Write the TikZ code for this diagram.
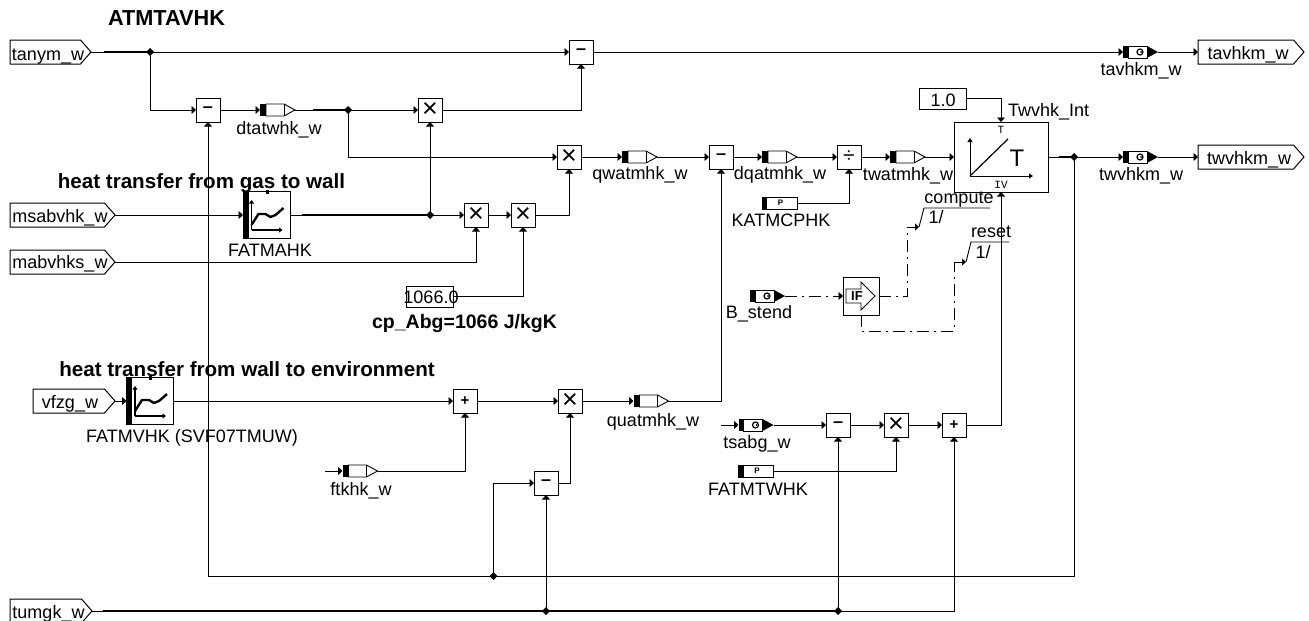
\documentclass[tikz,border=0pt]{standalone}
\usepackage{fontspec}
\setmainfont{Liberation Sans}
\setmonofont{Liberation Mono}
\usetikzlibrary{arrows.meta,shapes.geometric}
\tikzset{
  conn/.style={line width=0.9pt,-{Triangle[length=4.5pt,width=8pt]}},
  wire/.style={line width=0.9pt},
  bus/.style={line width=2pt},
  ctrl/.style={line width=0.9pt,dash pattern=on 12pt off 5pt on 2pt off 5pt},
  ctrlarrow/.style={line width=0.9pt,-{Triangle[length=4pt,width=7pt]}},
  lab/.style={font=\fontsize{18}{20}\selectfont,inner sep=0pt,outer sep=0pt,anchor=base},
  head/.style={font=\fontsize{20.6}{22}\selectfont\bfseries,inner sep=0pt,outer sep=0pt,anchor=base},
  opbox/.style={draw,line width=1pt,minimum width=24pt,minimum height=24pt,inner sep=0pt,outer sep=0pt,fill=white,font=\fontsize{18}{18}\selectfont},
  opx/.style={opbox,font=\fontsize{27}{27}\selectfont},
  opp/.style={opbox,font=\fontsize{15}{15}\selectfont\bfseries},
  opd/.style={opbox,font=\fontsize{21}{21}\selectfont},
  elbox/.style={minimum width=35pt,minimum height=12pt,inner sep=0pt,outer sep=0pt},
  pbox/.style={minimum width=1pt,minimum height=24pt,inner sep=0pt,outer sep=0pt},
  junction/.style={shape=diamond,fill=black,minimum width=8pt,minimum height=8pt,inner sep=0pt,outer sep=0pt},
}
% input-type element: strip, white body, white tip
\newcommand\elemin[3]{%
  \node[elbox] (#1) at (#2,#3) {};
  \draw[line width=0.9pt] ([xshift=6pt]#1.north west) -- ([xshift=-11pt]#1.north east) -- (#1.east) -- ([xshift=-11pt]#1.south east) -- ([xshift=6pt]#1.south west) -- cycle;
  \draw[line width=0.9pt] ([xshift=-11pt]#1.north east) -- ([xshift=-11pt]#1.south east);
  \fill (#1.north west) rectangle ([xshift=6pt]#1.south west);}
% output-type element: strip, body with circle, black tip
\newcommand\elemout[3]{%
  \node[elbox] (#1) at (#2,#3) {};
  \fill (#1.north west) rectangle ([xshift=5pt]#1.south west);
  \draw[line width=0.9pt] ([xshift=5pt]#1.north west) rectangle ([xshift=-11pt]#1.south east);
  \fill ([xshift=-11pt]#1.north east) -- (#1.east) -- ([xshift=-11pt]#1.south east) -- cycle;
  \draw[line width=1.2pt] ([xshift=-0.5pt]#1.center) circle (3pt);
  \fill ([xshift=0.5pt]#1.center) circle (1pt);}
% parameter element
\newcommand\elemparam[3]{%
  \node[elbox] (#1) at (#2,#3) {};
  \draw[line width=0.9pt] (#1.north west) rectangle (#1.south east);
  \fill (#1.north west) rectangle ([xshift=5pt]#1.south west);
  \node[inner sep=0pt,font=\fontsize{8}{8}\selectfont\bfseries] at ([xshift=1pt]#1.center) {P};}
% signal pentagon
\newcommand\pent[4]{%
  \node[pbox,minimum width=#4pt] (#1) at (#2,#3) {};
  \draw[line width=1pt,fill=white] (#1.south west) -- (#1.north west) -- ([xshift=-10.5pt]#1.north east) -- (#1.east) -- ([xshift=-10.5pt]#1.south east) -- cycle;}
% characteristic-map block
\newcommand\mapblock[3]{%
  \node[draw,line width=1pt,minimum width=47pt,minimum height=47pt,inner sep=0pt,outer sep=0pt] (#1) at (#2,#3) {};
  \fill ([xshift=-0.5pt]#1.north west) rectangle ([xshift=5.5pt]#1.south west);
  \fill ([shift={(0,0)}]#1.north) ++(-1pt,-2pt) rectangle ++(3pt,3.5pt);
  \draw[line width=1.1pt,-{Triangle[length=3.5pt,width=5pt]}] ([shift={(-15pt,-15pt)}]#1.center) -- ([shift={(-15pt,15pt)}]#1.center);
  \draw[line width=1.1pt,-{Triangle[length=3.5pt,width=5pt]}] ([shift={(-15pt,-15pt)}]#1.center) -- ([shift={(16pt,-15pt)}]#1.center);
  \draw[line width=2.4pt,line join=round] ([shift={(-15pt,-10pt)}]#1.center) -- ([shift={(-8pt,1pt)}]#1.center) -- ([shift={(-1pt,1pt)}]#1.center) -- ([shift={(4pt,-2pt)}]#1.center) -- ([shift={(9pt,0pt)}]#1.center) -- ([shift={(17pt,7pt)}]#1.center);}
\begin{document}
\begin{tikzpicture}[x=1pt,y=-1pt]
\useasboundingbox (0,0) rectangle (1309,621);
% signal ports
\pent{tanym}{50.5}{52}{81}
\pent{msab}{62.5}{215}{105}
\pent{mabv}{62.5}{262}{105}
\pent{vfzg}{74}{401}{82}
\pent{tumgk}{51}{611}{82}
\pent{tavout}{1251}{52}{106}
\pent{twvout}{1251}{157}{106}
% operator blocks
\node[opbox] (m1) at (208,110) {\bfseries –};
\node[opx] (x1) at (430,110) {×};
\node[opbox] (m0) at (581,52) {\bfseries –};
\node[opx] (x2) at (569,157) {×};
\node[opbox] (m2) at (721,157) {\bfseries –};
\node[opd] (d1) at (849,157) {÷};
\node[opx] (x3) at (476,215) {×};
\node[opx] (x4) at (523,215) {×};
\node[opp] (p1) at (465,401) {+};
\node[opx] (x5) at (570,401) {×};
\node[opbox] (m3) at (546,483) {\bfseries –};
\node[opbox] (m4) at (838,425) {\bfseries –};
\node[opx] (x6) at (896,425) {×};
\node[opp] (p2) at (954,425) {+};
% map blocks
\mapblock{fatmahk}{266.5}{215}
\mapblock{fatmvhk}{150}{401}
% elements
\elemin{dtat}{277.5}{110}
\elemin{qwat}{639.5}{157}
\elemin{dqat}{779.5}{157}
\elemin{twat}{907.5}{157}
\elemin{quat}{651}{401}
\elemin{ftk}{360}{471}
\elemout{tavm}{1140.5}{52}
\elemout{twvm}{1140.5}{157}
\elemout{tsabg}{756}{425}
\elemout{bst}{767.5}{296}
\elemparam{kat}{779.5}{203}
\elemparam{fatw}{756}{471}
% integrator
\node[draw,line width=1pt,minimum width=94pt,minimum height=70pt,inner sep=0pt,outer sep=0pt] (int) at (1001,157) {};
\draw[line width=1pt,-{Triangle[length=4pt,width=5pt]}] (970,176) -- (970,138);
\draw[line width=1pt,-{Triangle[length=4pt,width=5pt]}] (970,176) -- (1033,176);
\draw[line width=1.2pt] (970,176) -- (1008,139);
\node[inner sep=0pt,font=\fontsize{24}{24}\selectfont] at (1017,158) {T};
\node[inner sep=0pt,font=\fontsize{11}{11}\selectfont\ttfamily] at (1001,129.5) {T};
\node[inner sep=0pt,font=\fontsize{11}{11}\selectfont\ttfamily] at (1001,184.5) {IV};
% constants
\node[draw,line width=1pt,minimum width=47pt,minimum height=21pt,inner sep=0pt,outer sep=0pt] (c1) at (942.5,98.5) {};
\node[draw,line width=1pt,minimum width=47pt,minimum height=21pt,inner sep=0pt,outer sep=0pt] (c2) at (429.5,296.5) {};
% IF block
\node[draw,line width=1pt,minimum width=36pt,minimum height=38pt,inner sep=0pt,outer sep=0pt] (ifb) at (861,296) {};
\draw[line width=0.9pt] (846,289) -- (861,289) -- (861,282) -- (875,296) -- (861,310) -- (861,303) -- (846,303) -- cycle;
\node[inner sep=0pt,font=\fontsize{13}{13}\selectfont\bfseries] at (857,296) {IF};
% junctions
\node[junction] (j1) at (150,52) {};
\node[junction] (j2) at (348,110) {};
\node[junction] (j3) at (430,215) {};
\node[junction] (j4) at (1074,157) {};
\node[junction] (j5) at (493.5,576) {};
\node[junction] (j6) at (546,611) {};
\node[junction] (j7) at (838,611) {};
% free ends
\coordinate (f1) at (325,471);
\coordinate (f2) at (721,425);
\coordinate (fb) at (208,576);
\coordinate (fbr) at (1074,576);
\coordinate (bus1) at (104,52);
\coordinate (bus2) at (313,110);
\coordinate (bus3) at (302,215);
\coordinate (bus4) at (1059,157);
\coordinate (bus5) at (103,611);
% connectors
\draw[wire] (tanym.east) -- (j1.center);
\draw[bus] (bus1) -- (j1.center);
\draw[conn] (j1.center) -- (m0.west);
\draw[conn] (j1.center) |- (m1.west);
\draw[conn] (m0.east) -- (tavm.west);
\draw[conn] (tavm.east) -- (tavout.west);
\draw[conn] (m1.east) -- (dtat.west);
\draw[wire] (dtat.east) -- (j2.center);
\draw[bus] (bus2) -- (j2.center);
\draw[conn] (j2.center) -- (x1.west);
\draw[conn] (j2.center) |- (x2.west);
\draw[conn] (x1.east) -| (m0.south);
\draw[conn] (j3.center) -- (x1.south);
\draw[conn] (msab.east) -- (fatmahk.west);
\draw[wire] (fatmahk.east) -- (j3.center);
\draw[bus] (bus3) -- (j3.center);
\draw[conn] (j3.center) -- (x3.west);
\draw[conn] (x3.east) -- (x4.west);
\draw[conn] (mabv.east) -| (x3.south);
\draw[conn] (c2.east) -| (x4.south);
\draw[conn] (x4.east) -| (x2.south);
\draw[conn] (x2.east) -- (qwat.west);
\draw[conn] (qwat.east) -- (m2.west);
\draw[conn] (m2.east) -- (dqat.west);
\draw[conn] (dqat.east) -- (d1.west);
\draw[conn] (kat.east) -| (d1.south);
\draw[conn] (d1.east) -- (twat.west);
\draw[conn] (twat.east) -- (int.west);
\draw[conn] (c1.east) -| (int.north);
\draw[wire] (int.east) -- (j4.center);
\draw[bus] (bus4) -- (j4.center);
\draw[conn] (j4.center) -- (twvm.west);
\draw[conn] (twvm.east) -- (twvout.west);
% feedback
\draw[wire] (j4.center) -- (fbr) -- (fb);
\draw[conn] (fb) -- (m1.south);
\draw[conn] (j5.center) |- (m3.west);
% lower left chain
\draw[conn] (vfzg.east) -- (fatmvhk.west);
\draw[conn] (fatmvhk.east) -- (p1.west);
\draw[conn] (p1.east) -- (x5.west);
\draw[conn] (ftk.east) -| (p1.south);
\draw[conn] (f1) -- (ftk.west);
\draw[conn] (m3.east) -| (x5.south);
\draw[conn] (x5.east) -- (quat.west);
\draw[conn] (quat.east) -| (m2.south);
% bottom bus
\draw[wire] (tumgk.east) -- (bus5);
\draw[bus] (bus5) -- (j7.center);
\draw[conn] (j6.center) -- (m3.south);
\draw[conn] (j7.center) -- (m4.south);
\draw[conn] (j7.center) -| (p2.south);
% lower right chain
\draw[conn] (f2) -- (tsabg.west);
\draw[conn] (tsabg.east) -- (m4.west);
\draw[conn] (m4.east) -- (x6.west);
\draw[conn] (x6.east) -- (p2.west);
\draw[conn] (fatw.east) -| (x6.south);
\draw[conn] (p2.east) -| (int.south);
% control flow
\coordinate (cc) at (907,227);
\coordinate (cs) at (919,227);
\coordinate (ct) at (924,208);
\coordinate (ce) at (990,208);
\coordinate (rd) at (861,331);
\coordinate (rr) at (954,331);
\coordinate (ru) at (954,262);
\coordinate (rs) at (966,262);
\coordinate (rt) at (971,242);
\coordinate (re) at (1009,242);
\draw[conn,dash pattern=on 12pt off 5pt on 2pt off 5pt] (bst.east) -- (ifb.west);
\draw[ctrl] (ifb.east) -| (cc);
\draw[ctrlarrow] (cc) -- (cs);
\draw[wire] (cs) -- (ct) -- (ce);
\draw[ctrl] (ifb.south) -- (rd) -- (rr) -- (ru);
\draw[ctrlarrow] (ru) -- (rs);
\draw[wire] (rs) -- (rt) -- (re);
% texts
\node[head,font=\fontsize{21.7}{23}\selectfont\bfseries] (t1) at (166.5,25) {ATMTAVHK};
\node[head] (t2) at (201.5,188) {heat transfer from gas to wall};
\node[head] (t3) at (247,376) {heat transfer from wall to environment};
\node[head,font=\fontsize{19.5}{22}\selectfont\bfseries] (t4) at (464.5,328) {cp\_Abg=1066 J/kgK};
\node[lab] (l1) at (48,60) {tanym\_w};
\node[lab] (l2) at (60,222) {msabvhk\_w};
\node[lab] (l3) at (60,268) {mabvhks\_w};
\node[lab] (l4) at (70,408) {vfzg\_w};
\node[lab] (l5) at (48.5,618) {tumgk\_w};
\node[lab] (l6) at (1248,59) {tavhkm\_w};
\node[lab] (l7) at (1249,164) {twvhkm\_w};
\node[lab] (l8) at (279,134) {dtatwhk\_w};
\node[lab] (l9) at (270,256) {FATMAHK};
\node[lab] (l10) at (640,179) {qwatmhk\_w};
\node[lab] (l11) at (780,179) {dqatmhk\_w};
\node[lab] (l12) at (781,226) {KATMCPHK};
\node[lab] (l13) at (908,180) {twatmhk\_w};
\node[lab] (l14) at (1141,75) {tavhkm\_w};
\node[lab] (l15) at (1141,180) {twvhkm\_w};
\node[lab,anchor=base west] (l16) at (1008,116) {Twvhk\_Int};
\node[lab] (l17) at (959,203) {compute};
\node[lab] (l18) at (991,237) {reset};
\node[lab] (l19) at (936,223) {1/};
\node[lab] (l20) at (983,258) {1/};
\node[lab] (l21) at (943,106) {1.0};
\node[lab] (l22) at (431,303) {1066.0};
\node[lab] (l23) at (192,442) {FATMVHK (SVF07TMUW)};
\node[lab] (l24) at (361,495) {ftkhk\_w};
\node[lab] (l25) at (653,426) {quatmhk\_w};
\node[lab] (l26) at (757,448) {tsabg\_w};
\node[lab] (l27) at (758,495) {FATMTWHK};
\node[lab] (l28) at (759,318) {B\_stend};
\end{tikzpicture}
\end{document}
